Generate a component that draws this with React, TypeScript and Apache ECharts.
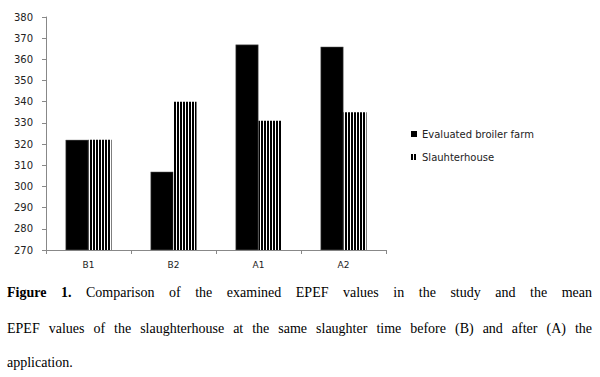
import React, { useEffect, useRef } from 'react';
import * as echarts from 'echarts';

const categories = ['B1', 'B2', 'A1', 'A2'];
const farmValues = [322, 307, 367, 366];
const slaughterValues = [322, 340, 331, 335];
const seriesNames = ['Evaluated broiler farm', 'Slauhterhouse'];
const yMin = 270;
const yMax = 380;
const yStep = 10;
const captionLines = [
  'Figure 1. Comparison of the examined EPEF values in the study and the mean',
  'EPEF values of the slaughterhouse at the same slaughter time before (B) and after (A) the',
  'application.',
];
const boldWords = ['Figure', '1.'];

function makeStripe(): HTMLCanvasElement {
  const c = document.createElement('canvas');
  c.width = 3;
  c.height = 10;
  const ctx = c.getContext('2d')!;
  ctx.fillStyle = '#ffffff';
  ctx.fillRect(0, 0, 3, 10);
  ctx.fillStyle = '#000000';
  ctx.fillRect(0, 0, 2, 10);
  return c;
}

export default function App() {
  const ref = useRef<HTMLDivElement>(null);
  useEffect(() => {
    document.body.style.margin = '0';
    if (!ref.current) return;
    const chart = echarts.init(ref.current, null, { renderer: 'svg' });
    const stripe = makeStripe();
    const pattern: any = { image: stripe, repeat: 'repeat', imageWidth: 3, imageHeight: 10 };

    // caption layout (justified)
    const family = 'Liberation Serif, DejaVu Serif, serif';
    const fontSize = 14;
    const mc = document.createElement('canvas').getContext('2d')!;
    const measure = (w: string, bold: boolean) => {
      mc.font = `${bold ? 'bold ' : ''}${fontSize}px ${family}`;
      return mc.measureText(w).width;
    };
    const leftX = 7;
    const rightX = 592;
    const lineYs = [292, 328, 362];
    const graphics: any[] = [];
    captionLines.forEach((line, li) => {
      const words = line.split(' ');
      const isBold = (w: string, i: number) => li === 0 && i < 2 && boldWords.includes(w);
      const widths = words.map((w, i) => measure(w, isBold(w, i)));
      const total = widths.reduce((a, b) => a + b, 0);
      const justify = li < captionLines.length - 1;
      const gap = justify ? (rightX - leftX - total) / (words.length - 1) : measure(' ', false);
      let x = leftX;
      words.forEach((w, i) => {
        const bold = isBold(w, i);
        graphics.push({
          type: 'text',
          x,
          y: lineYs[li],
          style: {
            text: w,
            font: `${bold ? 'bold ' : ''}${fontSize}px ${family}`,
            fill: '#000',
            verticalAlign: 'middle',
          },
        });
        x += widths[i] + gap;
      });
    });

    chart.setOption({
      animation: false,
      backgroundColor: '#fff',
      grid: { left: 46, top: 17, width: 340, height: 233, containLabel: false },
      legend: {
        orient: 'vertical',
        left: 406,
        top: 124,
        itemWidth: 6,
        itemHeight: 6,
        itemGap: 13,
        icon: 'rect',
        itemStyle: { borderWidth: 0 },
        textStyle: { fontFamily: 'DejaVu Sans', fontSize: 10, color: '#222' },
        data: seriesNames,
      },
      xAxis: {
        type: 'category',
        data: categories,
        axisLine: { lineStyle: { color: '#888', width: 1 } },
        axisTick: { show: true, length: 4, lineStyle: { color: '#888' } },
        axisLabel: { fontFamily: 'DejaVu Sans', fontSize: 9, color: '#222', margin: 10 },
      },
      yAxis: {
        type: 'value',
        min: yMin,
        max: yMax,
        interval: yStep,
        splitLine: { show: false },
        axisLine: { show: true, lineStyle: { color: '#888', width: 1 } },
        axisTick: { show: true, length: 4, lineStyle: { color: '#888' } },
        axisLabel: { fontFamily: 'DejaVu Sans', fontSize: 10, color: '#222', margin: 13 },
      },
      series: [
        {
          name: seriesNames[0],
          type: 'bar',
          data: farmValues,
          barWidth: 23,
          barGap: '0%',
          itemStyle: { color: '#000', borderColor: '#777', borderWidth: 0.5 },
        },
        {
          name: seriesNames[1],
          type: 'bar',
          data: slaughterValues,
          barWidth: 23,
          barGap: '0%',
          itemStyle: { color: pattern },
        },
      ],
      graphic: graphics,
    });
    return () => chart.dispose();
  }, []);
  return <div ref={ref} style={{ width: 600, height: 377 }} />;
}
